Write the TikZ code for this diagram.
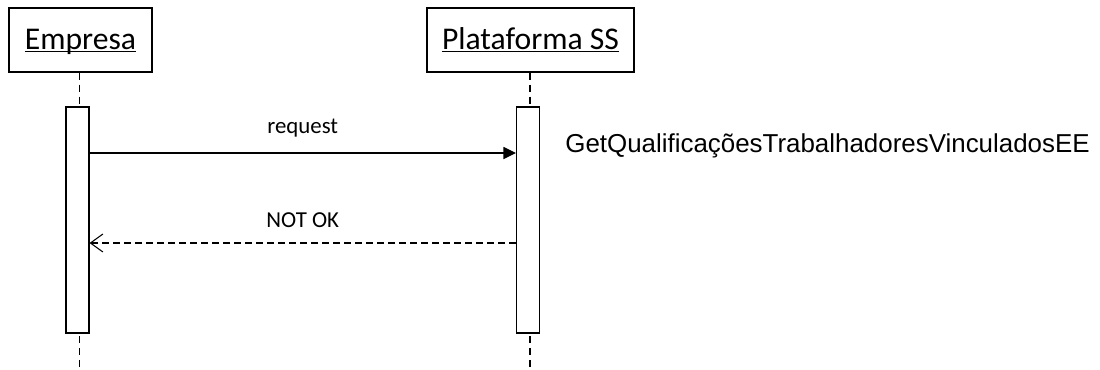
\documentclass[tikz,border=0pt]{standalone}
\usepackage{fontspec}
\setmainfont{Carlito}
\newfontfamily\arialfont{Liberation Sans}
\usetikzlibrary{arrows.meta}

\newcommand{\headname}[1]{\setbox0\hbox{#1}\rlap{\rule[-0.11em]{\wd0}{0.05em}}\box0}

\tikzset{
  actor/.style={draw,line width=0.6pt,minimum height=1.28cm,inner sep=0pt,text height=0.56cm,text depth=0.2cm,font=\fontsize{18}{20}\selectfont},
  activation/.style={draw,line width=0.6pt,fill=white,minimum width=0.46cm,minimum height=4.52cm,inner sep=0pt},
  lifeline/.style={line width=0.6pt,dash pattern=on 0.14cm off 0.1cm},
  msglabel/.style={font=\fontsize{13}{15}\selectfont}
}

\begin{document}
\begin{tikzpicture}[x=0.02cm,y=-0.02cm]

    \useasboundingbox (0,0) rectangle (1100,369);

    % lifeline heads
    \node[actor,minimum width=2.86cm] (empresa) at (80.5,40) {\headname{Empresa}};
    \node[actor,minimum width=4.14cm] (plataforma) at (530.5,40) {\headname{Plataforma SS}};

    % lifelines
    \coordinate (empresaend) at (79.5,369);
    \coordinate (plataformaend) at (530,369);
    \draw[lifeline] (empresa.south -| empresaend) -- (empresaend);
    \draw[lifeline] (plataforma.south -| plataformaend) -- (plataformaend);

    % activations
    \node[activation] (actA) at (77.5,220) {};
    \node[activation] (actB) at (528,220) {};

    % messages
    \draw[line width=0.6pt,-{Triangle[length=0.25cm,width=0.24cm]}] (actA.east |- 0,153) -- (actB.west |- 0,153)
      node[midway,above=0.18cm,msglabel] (request) {request};
    \draw[line width=0.6pt,dash pattern=on 0.14cm off 0.08cm,-{Straight Barb[length=0.25cm,width=0.36cm,line width=0.6pt]}] (actB.west |- 0,243) -- (actA.east |- 0,243)
      node[midway,above=0.18cm,msglabel] (notok) {NOT OK};

    % operation name
    \node[anchor=base west,inner sep=0pt,font=\arialfont\fontsize{14.75}{17}\selectfont] (operation) at (565,152) {GetQualificaçõesTrabalhadoresVinculadosEE};

\end{tikzpicture}
\end{document}
